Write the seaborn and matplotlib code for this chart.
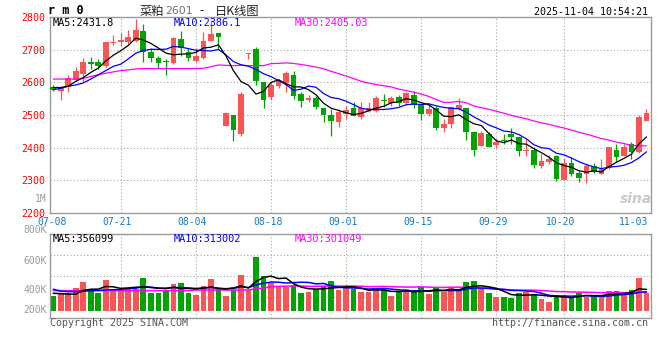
import numpy as np
import pandas as pd
import matplotlib
matplotlib.use("Agg")
import matplotlib.pyplot as plt
import matplotlib.transforms as mtrans
import seaborn as sns

# ---------------- data ----------------
opens = [2586, 2572, 2585, 2608, 2626, 2661, 2663, 2651, 2719, 2724,
         2722, 2728, 2758, 2694, 2673, 2664, 2659, 2733, 2694, 2666,
         2676, 2728, 2750, 2466, 2500, 2443, 2688, 2702, 2602, 2554,
         2588, 2598, 2622, 2564, 2546, 2551, 2520, 2500, 2480, 2503,
         2520, 2493, 2513, 2513, 2547, 2537, 2554, 2537, 2561, 2534,
         2503, 2520, 2460, 2472, 2518, 2521, 2447, 2406, 2442, 2408,
         2423, 2442, 2434, 2389, 2393, 2345, 2357, 2375, 2302, 2353,
         2322, 2319, 2343, 2320, 2337, 2393, 2376, 2411, 2386, 2483]
highs = [2593, 2588, 2622, 2646, 2673, 2677, 2670, 2724, 2745, 2751,
         2761, 2794, 2779, 2704, 2682, 2671, 2738, 2758, 2704, 2704,
         2753, 2792, 2750, 2509, 2500, 2569, 2690, 2709, 2602, 2600,
         2610, 2636, 2636, 2569, 2561, 2557, 2520, 2518, 2518, 2528,
         2539, 2539, 2539, 2557, 2564, 2557, 2561, 2569, 2574, 2534,
         2531, 2528, 2487, 2528, 2551, 2521, 2452, 2452, 2449, 2431,
         2442, 2459, 2434, 2427, 2401, 2380, 2378, 2377, 2368, 2370,
         2329, 2353, 2353, 2364, 2403, 2410, 2410, 2416, 2501, 2518]
lows = [2572, 2547, 2571, 2605, 2602, 2641, 2641, 2648, 2714, 2712,
        2717, 2722, 2661, 2661, 2643, 2622, 2656, 2682, 2664, 2662,
        2671, 2728, 2702, 2465, 2420, 2435, 2670, 2592, 2521, 2547,
        2583, 2569, 2549, 2526, 2541, 2518, 2480, 2437, 2462, 2488,
        2496, 2488, 2508, 2508, 2523, 2529, 2529, 2531, 2521, 2486,
        2496, 2455, 2449, 2459, 2516, 2424, 2376, 2404, 2401, 2398,
        2412, 2412, 2374, 2374, 2338, 2338, 2350, 2299, 2302, 2314,
        2296, 2292, 2321, 2320, 2335, 2355, 2373, 2365, 2384, 2481]
closes = [2577, 2586, 2613, 2636, 2661, 2656, 2651, 2722, 2725, 2730,
          2738, 2761, 2694, 2673, 2659, 2661, 2735, 2704, 2676, 2682,
          2728, 2748, 2740, 2506, 2455, 2564, 2690, 2605, 2547, 2592,
          2605, 2629, 2559, 2544, 2551, 2526, 2500, 2483, 2510, 2515,
          2498, 2520, 2521, 2552, 2542, 2552, 2537, 2567, 2531, 2503,
          2518, 2459, 2472, 2523, 2530, 2447, 2394, 2445, 2403, 2416,
          2419, 2434, 2391, 2393, 2348, 2358, 2365, 2304, 2353, 2319,
          2306, 2343, 2324, 2336, 2401, 2372, 2403, 2388, 2495, 2506]
# volume, thousands of lots
volumes = [360, 378, 378, 416, 453, 400, 382, 467, 404, 400,
           416, 404, 480, 382, 382, 400, 442, 447, 382, 367,
           429, 473, 404, 362, 400, 500, 400, 622, 496, 444,
           418, 418, 436, 382, 389, 404, 429, 462, 400, 411,
           404, 389, 389, 411, 404, 362, 384, 407, 384, 420,
           373, 420, 389, 416, 407, 453, 460, 404, 382, 356,
           356, 349, 382, 384, 371, 340, 322, 367, 367, 351,
           378, 356, 360, 367, 393, 393, 367, 400, 482, 378]

# moving-average values before enough bars exist
ma5_head = [2584, 2584, 2588, 2603]
ma10_head = [2577, 2582, 2588, 2592, 2598, 2610, 2623, 2636, 2649]
ma30_head = [2610, 2610, 2610, 2610, 2612, 2618, 2623, 2628, 2632, 2636,
             2638, 2641, 2642, 2642, 2642, 2642, 2642, 2642, 2642, 2642,
             2643, 2648, 2653, 2652, 2651, 2652, 2651, 2651, 2651]
vma5_head = [378, 376, 372, 372]
vma10_head = [405, 392, 389, 389, 392, 395, 397, 400, 402]
vma30_head = [396, 396, 396, 396, 396, 396, 396, 396, 396, 396,
              396, 396, 396, 396, 396, 396, 396, 396, 396, 400,
              400, 400, 400, 400, 400, 400, 400, 408, 412]

date_ticks = [0, 9, 19, 29, 39, 49, 59, 68, 78]
date_labels = ["07-08", "07-21", "08-04", "08-18", "09-01", "09-15",
               "09-29", "10-20", "11-03"]
price_ticks = [2200, 2300, 2400, 2500, 2600, 2700, 2800]
vol_label_text = ["1M", "800K", "600K", "400K", "200K"]

title_name = "菜粕"
title_code = "2601"
title_dash = "-"
title_kind = "日K线图"
symbol = "r m 0"
stamp = "2025-11-04 10:54:21"
ma_price_text = ["MA5:2431.8", "MA10:2386.1", "MA30:2405.03"]
ma_vol_text = ["MA5:356099", "MA10:313002", "MA30:301049"]

# ---------------- style ----------------
sns.set_style("white")
plt.rcParams["font.family"] = ["DejaVu Sans Mono", "DejaVu Sans"]
MONO = ["DejaVu Sans Mono"]
CJK = ["Noto Sans CJK SC", "DejaVu Sans"]
RED = "#fb5454"
GREEN = "#00a400"
GRID = "#a8a8a8"
FRAME = "#9a9a9a"
BLUE_TXT = "#1179c9"

W, H = 660, 360
fig = plt.figure(figsize=(W / 100, H / 100), dpi=100)
fig.patch.set_facecolor("white")


def rect(l, t, r, b):
    return [l / W, 1 - b / H, (r - l) / W, (b - t) / H]


def ft(xp, yp, s, **kw):
    return fig.text(xp / W, 1 - yp / H, s, **kw)


ax = fig.add_axes(rect(50, 17, 651, 213))
axv = fig.add_axes(rect(50, 234, 651, 318))

n = len(closes)
x = np.arange(n)
O = np.array(opens, float)
Hh = np.array(highs, float)
L = np.array(lows, float)
C = np.array(closes, float)
up = C >= O
cols = np.where(up, RED, GREEN)

cs = pd.Series(C)
ma5 = cs.rolling(5).mean().to_numpy()
ma10 = cs.rolling(10).mean().to_numpy()
ma30 = cs.rolling(30).mean().to_numpy()
ma5[:4] = ma5_head
ma10[:9] = ma10_head
ma30[:29] = ma30_head

vs = pd.Series(np.array(volumes, float))
vma5 = vs.rolling(5).mean().to_numpy()
vma10 = vs.rolling(10).mean().to_numpy()
vma30 = vs.rolling(30).mean().to_numpy()
vma5[:4] = vma5_head
vma10[:9] = vma10_head
vma30[:29] = vma30_head

XL = (-0.43, 79.6)
grid_kw = dict(color=GRID, lw=0.8, ls=(0, (1, 2)), zorder=0)

# ---- price panel ----
ax.set_xlim(*XL)
ax.set_ylim(2200, 2800)
for p in price_ticks[1:-1]:
    ax.axhline(p, **grid_kw)
for i in date_ticks[1:-1]:
    ax.axvline(i, **grid_kw)

ax.vlines(x, L, Hh, colors=cols, lw=0.9, zorder=2)
body_bottom = np.minimum(O, C)
body_h = np.maximum(np.abs(C - O), 2.5)
ax.bar(x, body_h, bottom=body_bottom, width=0.76, color=cols, lw=0, zorder=3)

sns.lineplot(x=x, y=ma30, ax=ax, color="#ff00ff", lw=0.9, zorder=4, legend=False)
sns.lineplot(x=x, y=ma10, ax=ax, color="#0000ff", lw=0.9, zorder=4, legend=False)
sns.lineplot(x=x, y=ma5, ax=ax, color="black", lw=0.9, zorder=5, legend=False)

ax.set_yticks(price_ticks)
ax.set_yticklabels([str(p) for p in price_ticks], color="#ff0000",
                   fontsize=7.2, family=MONO)
ax.set_xticks([])
ax.tick_params(axis="y", length=0, pad=3.5)
ax.set_xlabel("")
ax.set_ylabel("")
for s in ax.spines.values():
    s.set_color(FRAME)
    s.set_linewidth(1.0)

blend = mtrans.blended_transform_factory(ax.transData, ax.transAxes)
for k, (i, lab) in enumerate(zip(date_ticks, date_labels)):
    if k == len(date_ticks) - 1:
        ax.text(XL[1] - 0.4, -0.048, lab, transform=blend, ha="right", va="center",
                color=BLUE_TXT, fontsize=7.0, family=MONO)
    elif k == 0:
        ax.text(i - 0.2, -0.048, lab, transform=blend, ha="center", va="center",
                color=BLUE_TXT, fontsize=7.0, family=MONO)
    else:
        ax.text(i - 0.45, -0.048, lab, transform=blend, ha="center", va="center",
                color=BLUE_TXT, fontsize=7.0, family=MONO)

# ---- volume panel ----
axv.set_xlim(*XL)
axv.set_ylim(213.3, 773.3)
for f in (0.25, 0.5, 0.75):
    axv.plot([0, 1], [f, f], transform=axv.transAxes, **grid_kw)
for i in date_ticks[1:-1]:
    axv.axvline(i, **grid_kw)
vb = 260.0
axv.bar(x, np.array(volumes, float) - vb, bottom=vb, width=0.76, color=cols, lw=0, zorder=2)
sns.lineplot(x=x, y=vma30, ax=axv, color="#ff00ff", lw=1.1, zorder=4, legend=False)
sns.lineplot(x=x, y=vma10, ax=axv, color="#0000ff", lw=1.1, zorder=4, legend=False)
sns.lineplot(x=x, y=vma5, ax=axv, color="black", lw=1.1, zorder=5, legend=False)
axv.set_xticks([])
axv.set_yticks([])
axv.set_xlabel("")
axv.set_ylabel("")
for s in axv.spines.values():
    s.set_color(FRAME)
    s.set_linewidth(1.0)

for lab, yp in zip(vol_label_text, [199, 230, 261, 290, 310]):
    ft(46.5, yp, lab, ha="right", va="center", color="#9a9a9a", fontsize=7.0, family=MONO)

# ---- header / footer texts ----
ft(48, 11, symbol, ha="left", va="center", fontsize=8.5, fontweight="bold",
   family=MONO, color="black")
ft(140, 11, title_name, ha="left", va="center", fontsize=8.8, family=CJK, color="#222222")
ft(165, 11.5, title_code, ha="left", va="center", fontsize=7.8, family=["DejaVu Sans"],
   color="#707070")
ft(202, 11, title_dash, ha="center", va="center", fontsize=8.8, family=CJK, color="#222222")
ft(215, 11, title_kind, ha="left", va="center", fontsize=8.8, family=CJK, color="#222222")
ft(648, 12, stamp, ha="right", va="center", fontsize=7.2, family=MONO, color="black")

ma_cols = ["black", "#0000ff", "#ff00ff"]
for s, xp, c in zip(ma_price_text, [53, 174, 295], ma_cols):
    ft(xp, 23.5, s, ha="left", va="center", fontsize=7.4, family=MONO, color=c)
for s, xp, c in zip(ma_vol_text, [53, 174, 295], ma_cols):
    ft(xp, 238.5, s, ha="left", va="center", fontsize=7.4, family=MONO, color=c)

ft(50, 323, "Copyright 2025 SINA.COM", ha="left", va="center", fontsize=7.2,
   family=MONO, color="#555555")
ft(648, 323, "http://finance.sina.com.cn", ha="right", va="center", fontsize=7.2,
   family=MONO, color="#555555")
ft(636, 199, "sina", ha="center", va="center", fontsize=10, fontweight="bold",
   style="italic", family=["DejaVu Sans"], color="#c9c9c9", zorder=1)

fig.savefig("out.png", dpi=100, facecolor="white")
